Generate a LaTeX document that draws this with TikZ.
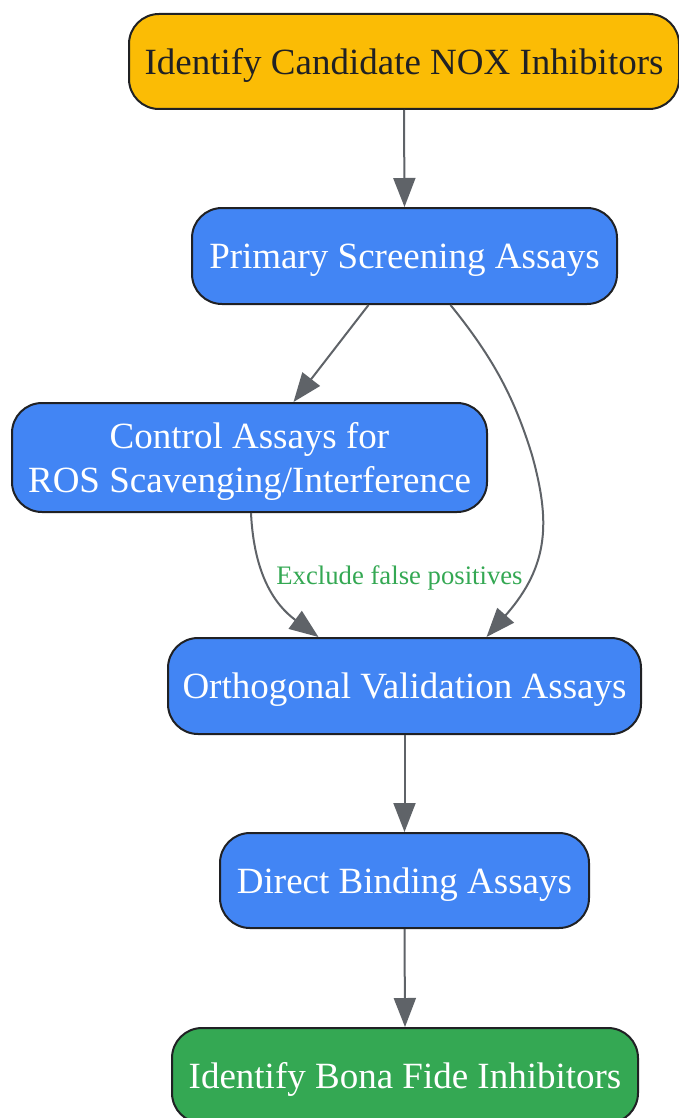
\documentclass[tikz,border=0pt]{standalone}
\usepackage{fontspec}
\setmainfont{Liberation Serif}
\usetikzlibrary{arrows.meta}
\definecolor{gyellow}{HTML}{FBBC05}
\definecolor{gblue}{HTML}{4285F4}
\definecolor{ggreen}{HTML}{34A853}
\definecolor{gdark}{HTML}{202124}
\definecolor{ggrey}{HTML}{5F6368}
\begin{document}
\begin{tikzpicture}[x=1pt,y=-1pt,
  box/.style={draw=gdark, line width=2pt, rounded corners=30pt, align=center,
    font=\fontsize{37}{44}\selectfont, text=white, inner sep=0pt, text depth=0pt},
  conn/.style={draw=ggrey, line width=2pt, -{Triangle[length=29pt,width=22pt]}},
  lbl/.style={text=ggreen, font=\fontsize{26.7}{30}\selectfont, inner sep=1pt}]
\useasboundingbox (0,0) rectangle (679,1118);
\node[box, fill=gyellow, text=gdark, minimum width=550pt, minimum height=95pt] (cand) at (404,61.5) {Identify Candidate NOX Inhibitors};
\node[box, fill=gblue, minimum width=425pt, minimum height=96pt] (prim) at (404.5,256) {Primary Screening Assays};
\node[box, fill=gblue, minimum width=475pt, minimum height=109pt] (ctrl) at (249.5,457.5) {Control Assays for\\ROS Scavenging/Interference};
\node[box, fill=gblue, minimum width=473pt, minimum height=96pt] (orth) at (404.5,686) {Orthogonal Validation Assays};
\node[box, fill=gblue, minimum width=369pt, minimum height=95pt] (dir) at (404.5,880.5) {Direct Binding Assays};
\node[box, fill=ggreen, minimum width=466pt, minimum height=95pt] (bona) at (405,1075.5) {Identify Bona Fide Inhibitors};
\draw[conn] (cand.south) -- (prim.north);
\draw[conn] ([xshift=-36pt]prim.south) -- ([xshift=44pt]ctrl.north);
\draw[conn] ([xshift=46pt]prim.south) .. controls (495,360) and (515,400) .. (532,455) .. controls (550,520) and (550,565) .. ([xshift=82pt]orth.north);
\draw[conn] ([xshift=1.5pt]ctrl.south) .. controls (254,575) and (275,605) .. ([xshift=-86pt]orth.north);
\node[lbl] (lab) at (399.5,578) {Exclude false positives};
\draw[conn] (orth.south) -- (dir.north);
\draw[conn] (dir.south) -- (bona.north);
\end{tikzpicture}
\end{document}
